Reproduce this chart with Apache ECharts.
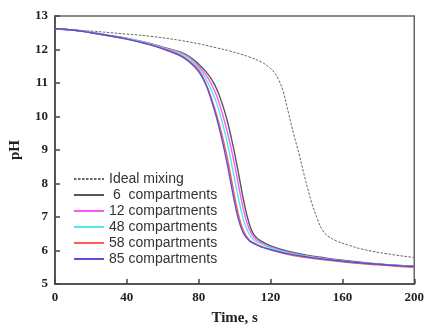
<!DOCTYPE html>
<html>
<head>
<meta charset="utf-8">
<script src="https://cdn.jsdelivr.net/npm/echarts@6/dist/echarts.min.js"></script>
<style>html,body{margin:0;padding:0;background:#fff}#c{width:427px;height:331px}</style>
</head>
<body>
<div id="c"></div>
<script>
const xTicks = [0, 40, 80, 120, 160, 200];
const yTicks = [5, 6, 7, 8, 9, 10, 11, 12, 13];

const seriesNames = ['Ideal mixing', ' 6  compartments', '12 compartments', '48 compartments', '58 compartments', '85 compartments'];

const tIdeal = [0, 20, 40, 54, 70, 81, 90, 97, 108, 115, 119, 122, 124.5, 127, 130, 133, 136, 139, 142.5, 146, 149, 152, 157, 164, 171, 185, 200];
const pHIdeal = [12.62, 12.55, 12.46, 12.39, 12.27, 12.16, 12.05, 11.96, 11.78, 11.62, 11.48, 11.32, 11.1, 10.75, 10.1, 9.45, 8.85, 8.2, 7.5, 6.95, 6.6, 6.43, 6.28, 6.15, 6.04, 5.9, 5.79];

const tComp = [0, 10, 20, 30, 40, 50, 60, 70, 75, 80, 84, 87, 90, 93, 96, 99, 102, 105, 108, 111, 115, 120, 130, 140, 150, 160, 170, 180, 190, 200];
const pH6  = [12.62, 12.58, 12.51, 12.42, 12.33, 12.22, 12.07, 11.92, 11.78, 11.56, 11.34, 11.12, 10.82, 10.4, 9.85, 9.15, 8.35, 7.5, 6.82, 6.45, 6.27, 6.14, 5.97, 5.86, 5.78, 5.71, 5.65, 5.6, 5.56, 5.53];
const pH12 = [12.62, 12.58, 12.51, 12.42, 12.33, 12.21, 12.06, 11.9, 11.75, 11.5, 11.24, 10.97, 10.62, 10.12, 9.52, 8.82, 8.0, 7.2, 6.65, 6.38, 6.22, 6.1, 5.94, 5.84, 5.76, 5.69, 5.63, 5.59, 5.55, 5.51];
const pH48 = [12.62, 12.58, 12.51, 12.42, 12.33, 12.21, 12.05, 11.88, 11.72, 11.45, 11.12, 10.8, 10.4, 9.85, 9.2, 8.4, 7.6, 6.9, 6.5, 6.3, 6.2, 6.08, 5.93, 5.83, 5.75, 5.69, 5.63, 5.59, 5.55, 5.52];
const pH58 = [12.62, 12.58, 12.5, 12.41, 12.31, 12.19, 12.03, 11.83, 11.65, 11.38, 10.98, 10.55, 10.05, 9.45, 8.75, 7.9, 7.1, 6.58, 6.32, 6.22, 6.12, 6.02, 5.88, 5.79, 5.72, 5.66, 5.61, 5.57, 5.53, 5.5];
const pH85 = [12.62, 12.58, 12.5, 12.41, 12.31, 12.18, 12.02, 11.8, 11.62, 11.34, 10.95, 10.5, 9.95, 9.3, 8.55, 7.7, 6.95, 6.5, 6.3, 6.2, 6.1, 6.03, 5.9, 5.81, 5.74, 5.68, 5.63, 5.59, 5.55, 5.52];

const colors = ['#666666', '#555555', '#ff55ff', '#55e6e6', '#ff5a5a', '#5a4fd8'];

function zip(ts, ps) { return ts.map((t, i) => [t, ps[i]]); }

const dataSets = [zip(tIdeal, pHIdeal), zip(tComp, pH6), zip(tComp, pH12), zip(tComp, pH48), zip(tComp, pH58), zip(tComp, pH85)];

const chart = echarts.init(document.getElementById('c'));
const serif = '"Liberation Serif", "Times New Roman", serif';
chart.setOption({
  animation: false,
  backgroundColor: '#fff',
  grid: { left: 51, right: 8, top: 16, bottom: 41, show: true, borderColor: '#666', borderWidth: 1.5, backgroundColor: 'transparent' },
  legend: {
    orient: 'vertical', left: 73, top: 172, padding: 0, itemWidth: 30, itemHeight: 14, itemGap: 2,
    data: seriesNames,
    itemStyle: { opacity: 0 },
    textStyle: { fontFamily: '"Liberation Sans", Arial, sans-serif', fontSize: 14, color: '#333', padding: [0, 0, 0, 0] }
  },
  xAxis: {
    type: 'value', min: xTicks[0], max: xTicks[xTicks.length - 1], interval: 40,
    name: 'Time, s', nameLocation: 'middle', nameGap: 27,
    nameTextStyle: { fontFamily: serif, fontWeight: 'bold', fontSize: 15, color: '#222' },
    axisLine: { lineStyle: { color: '#444', width: 1.5 } },
    axisTick: { inside: true, length: 5, lineStyle: { color: '#444', width: 1.5 } },
    axisLabel: { fontFamily: serif, fontWeight: 'bold', fontSize: 13, color: '#222', margin: 7 },
    splitLine: { show: false }
  },
  yAxis: {
    type: 'value', min: yTicks[0], max: yTicks[yTicks.length - 1], interval: 1,
    name: 'pH', nameLocation: 'middle', nameGap: 32, nameRotate: 90,
    nameTextStyle: { fontFamily: serif, fontWeight: 'bold', fontSize: 15, color: '#222' },
    axisLine: { show: true, lineStyle: { color: '#444', width: 1.5 } },
    axisTick: { inside: true, length: 5, lineStyle: { color: '#444', width: 1.5 } },
    axisLabel: { fontFamily: serif, fontWeight: 'bold', fontSize: 13, color: '#222', margin: 7 },
    splitLine: { show: false }
  },
  series: seriesNames.map((n, i) => ({
    name: n, type: 'line', data: dataSets[i], symbol: 'none', smooth: 0.4,
    color: colors[i],
    lineStyle: { color: colors[i], width: i === 0 ? 1 : 1.4, type: i === 0 ? [2.5, 1.5] : 'solid' },
    z: 2 + i
  }))
});
</script>
</body>
</html>
